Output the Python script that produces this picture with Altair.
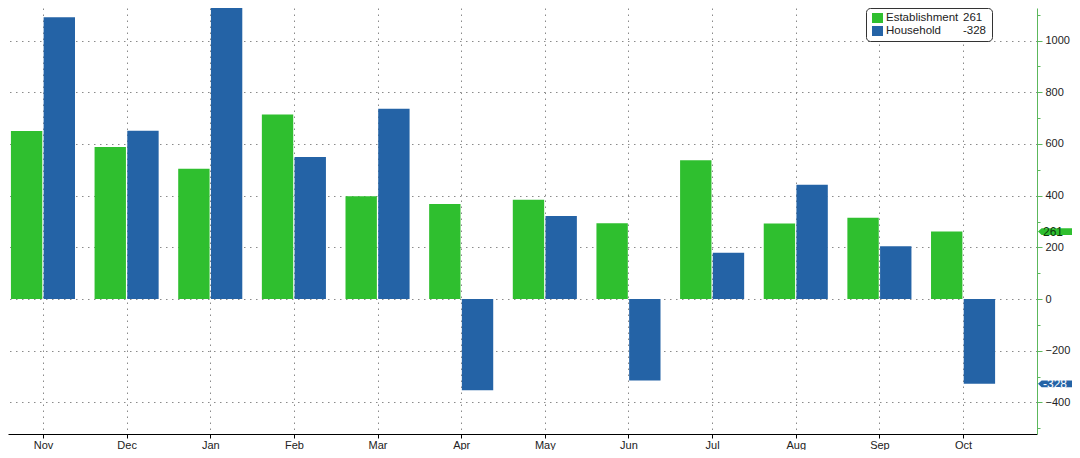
import altair as alt
import pandas as pd

# ---- data ----
months = ["Nov", "Dec", "Jan", "Feb", "Mar", "Apr", "May", "Jun", "Jul", "Aug", "Sep", "Oct"]
establishment = [650, 588, 504, 714, 398, 368, 384, 293, 537, 292, 315, 261]
household = [1090, 651, 1199, 550, 736, -353, 321, -315, 179, 442, 204, -328]
series = ["Establishment", "Household"]
colors = ["#2fbf2f", "#2463a6"]
y_values = [-500, -400, -300, -200, -100, 0, 100, 200, 300, 400, 500, 600, 700, 800, 900, 1000, 1100]

rows = []
for i, m in enumerate(months):
    rows.append({"idx": i, "month": m, "series": series[0], "value": establishment[i]})
    rows.append({"idx": i, "month": m, "series": series[1], "value": household[i]})
df = pd.DataFrame(rows)

last = pd.DataFrame({
    "series": series,
    "value": [establishment[-1], household[-1]],
})
last["label"] = last["value"].astype(str)

FONT = "Liberation Sans"
W, H = 1029, 426
xscale = alt.Scale(domain=[-0.418, 11.884], nice=False, zero=False)
yscale = alt.Scale(domain=[-522, 1126], nice=False, zero=False)
cscale = alt.Scale(domain=series, range=colors)
label_expr = "[" + ",".join("'%s'" % m for m in months) + "][datum.value]"
major = "datum.value % 200 === 0"

y_axis = alt.Axis(
    values=y_values, title=None, orient="right",
    labelExpr=major + " ? format(datum.value, 'd') : ''",
    grid=True, gridDash=[1.5, 4.5], gridColor="#8a8a8a", gridWidth=1,
    gridOpacity={"condition": {"test": major, "value": 1}, "value": 0},
    domainColor="#5cb85c", domainWidth=1, tickColor="#5cb85c",
    tickSize={"condition": {"test": major, "value": 5}, "value": 3},
    labelFont=FONT, labelFontSize=11, labelColor="#222222", labelPadding=3,
    labelFlush=False, labelOverlap=False)

base = alt.Chart(df)

bars = base.mark_bar(clip=True).transform_calculate(
    x0="datum.idx + (datum.series == 'Establishment' ? -0.383 : 0.008)",
    x1="datum.idx + (datum.series == 'Establishment' ? -0.008 : 0.383)",
).encode(
    x=alt.X("x0:Q", scale=xscale, axis=alt.Axis(
        values=list(range(len(months))), labelExpr=label_expr, title=None,
        grid=True, gridDash=[1.5, 4.5], gridColor="#8a8a8a", gridWidth=1,
        domainColor="#000000", domainWidth=1, tickColor="#000000", tickSize=4,
        labelFont=FONT, labelFontSize=11, labelColor="#222222", labelPadding=1,
        labelOverlap=False, labelFlush=False, orient="bottom")),
    x2="x1:Q",
    y=alt.Y("value:Q", scale=yscale, axis=y_axis),
    y2=alt.datum(0),
    color=alt.Color("series:N", scale=cscale, legend=None),
)

tag_shape = "M-1,0 L-0.82,-0.17 L1,-0.17 L1,0.17 L-0.82,0.17 Z"
tags = alt.Chart(last).mark_point(
    shape=tag_shape, filled=True, opacity=1, size=1600, strokeWidth=0
).encode(
    x=alt.value(W + 21),
    y=alt.Y("value:Q", scale=yscale, axis=y_axis),
    color=alt.Color("series:N", scale=cscale, legend=None),
)
tag_text = alt.Chart(last).mark_text(
    align="left", baseline="middle", font=FONT, fontSize=12
).encode(
    x=alt.value(W + 6),
    y=alt.Y("value:Q", scale=yscale, axis=y_axis),
    text="label:N",
    color=alt.condition(alt.datum.series == series[0], alt.value("#0c3a0c"), alt.value("#ffffff")),
)

one = alt.Chart(pd.DataFrame({"a": [0]}))
box = one.mark_rect(fill="#ffffff", stroke="#333333", strokeWidth=1, cornerRadius=4).encode(
    x=alt.value(858.5), x2=alt.value(984.5), y=alt.value(0.5), y2=alt.value(33.5)
)
legend_layers = [box]
row_y = [10, 23]
for k in range(2):
    legend_layers.append(one.mark_rect(fill=colors[k]).encode(
        x=alt.value(864), x2=alt.value(875),
        y=alt.value(row_y[k] - 5), y2=alt.value(row_y[k] + 5)))
    legend_layers.append(one.mark_text(
        text=series[k], align="left", baseline="middle", font=FONT, fontSize=11.5, color="#222222"
    ).encode(x=alt.value(878), y=alt.value(row_y[k])))
    legend_layers.append(one.mark_text(
        text=str(last["value"][k]), align="left", baseline="middle", font=FONT, fontSize=11.5, color="#222222"
    ).encode(x=alt.value(955), y=alt.value(row_y[k])))

chart = alt.layer(bars, tags, tag_text, *legend_layers).properties(
    width=W, height=H,
    autosize=alt.AutoSizeParams(type="none"),
    padding={"left": 0, "top": 0, "right": 35, "bottom": 16},
    background="#ffffff",
).configure_view(stroke=None)

chart.save("out.html", embed_options={"renderer": "svg", "actions": False})
